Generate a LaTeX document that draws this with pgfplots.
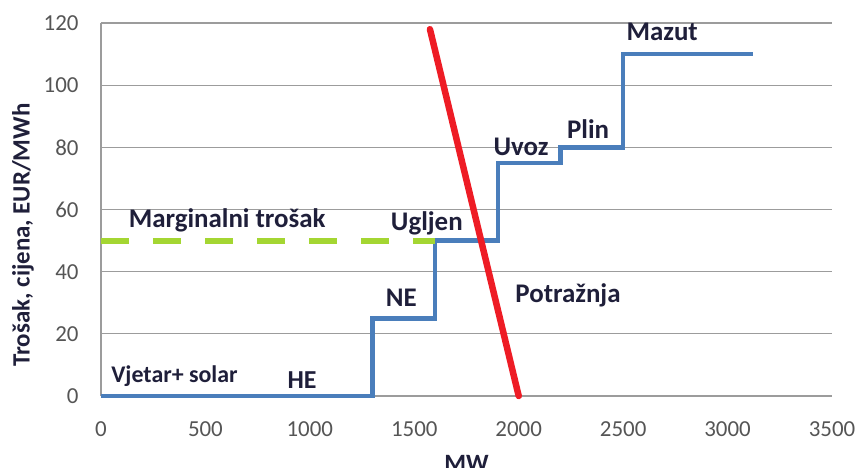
\documentclass[border=0pt]{standalone}
\usepackage{fontspec}
\setmainfont{Carlito}
\usepackage{pgfplots}
\usepackage{pgfplotstable}
\pgfplotsset{compat=1.18}
\definecolor{stepblue}{HTML}{4A7EBB}
\definecolor{demandred}{HTML}{EE1C25}
\definecolor{margreen}{HTML}{A4D632}
\definecolor{gridgray}{HTML}{9C9C9C}
\definecolor{tickgray}{HTML}{555555}
\definecolor{labeltext}{HTML}{1F1F3A}
\pgfplotstableread{
x y
0 0
1300 25
1600 50
1900 75
2200 80
2500 110
3120 110
}\supply
\pgfplotstableread{
x y
1575 118
2000 0
}\demand
\pgfplotstableread{
x y
0 50
1600 50
}\marginal
\begin{document}
\begin{tikzpicture}
\begin{axis}[name=ax,
  width=731bp, height=373bp, scale only axis,
  xmin=0, xmax=3500, ymin=0, ymax=120,
  xtick={0,500,...,3500}, ytick={0,20,...,120},
  axis x line=bottom, axis y line=left,
  axis line style={-, draw=gridgray, line width=1.3bp},
  ymajorgrids, grid style={draw=gridgray, line width=1.3bp},
  major tick length=0pt,
  /pgf/number format/assume math mode=true,
  /pgf/number format/1000 sep={},
  ticklabel style={font=\fontsize{23}{23}\selectfont, text=tickgray},
  xticklabel style={yshift=-22bp},
  yticklabel style={xshift=-19bp},
  clip=false,
]
\addplot[const plot, draw=stepblue, line width=4.5bp] table[x=x,y=y]{\supply};
\addplot[draw=margreen, line width=6bp, dash pattern=on 28bp off 24bp] table[x=x,y=y]{\marginal};
\addplot[draw=demandred, line width=6.5bp, line cap=round] table[x=x,y=y]{\demand};
\begin{scope}[every node/.style={font=\fontsize{27}{27}\selectfont\bfseries, text=labeltext}]
\node[font=\fontsize{24}{24}\selectfont\bfseries] at (axis cs:352,6.4) {Vjetar+ solar};
\node[font=\fontsize{26}{26}\selectfont\bfseries] at (axis cs:963,5) {HE};
\node at (axis cs:1438,31.5) {NE};
\node at (axis cs:1560,55.5) {Ugljen};
\node at (axis cs:2236,32.5) {Potražnja};
\node at (axis cs:2011,80) {Uvoz};
\node at (axis cs:2332,86) {Plin};
\node at (axis cs:2687,117) {Mazut};
\node at (axis cs:604,56.6) {Marginalni trošak};
\end{scope}
\end{axis}
\node[font=\fontsize{25}{25}\selectfont\bfseries, text=labeltext, rotate=90] at ([xshift=-78bp]ax.south west |- 0,161bp) {Trošak, cijena, EUR/MWh};
\node[font=\fontsize{25}{25}\selectfont\bfseries, text=labeltext, anchor=north] at ([yshift=-56bp]ax.south) {MW};
\pgfresetboundingbox
\path ([xshift=-101bp,yshift=-72bp]ax.south west) rectangle ++(859bp,468bp);
\end{tikzpicture}
\end{document}
